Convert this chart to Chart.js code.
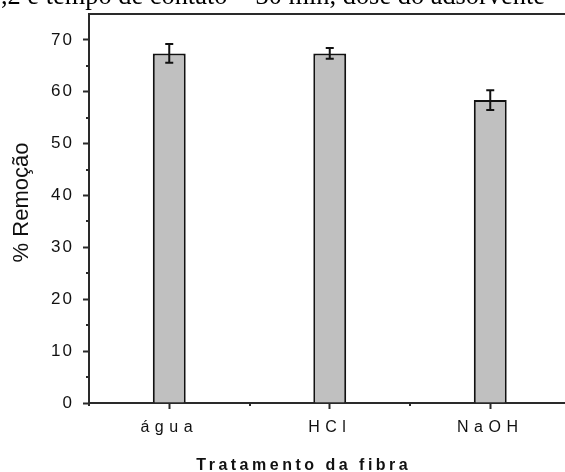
<!DOCTYPE html>
<html>
<head>
<meta charset="utf-8">
<script src="https://cdn.jsdelivr.net/npm/chart.js@4.4.1/dist/chart.umd.min.js"></script>
<style>
  html, body { margin: 0; padding: 0; background: #fff; overflow: hidden; }
  #chart { display: block; }
</style>
</head>
<body>
<canvas id="chart" width="580" height="480" style="width:580px;height:480px"></canvas>
<script>
const categories = ["água", "HCl", "NaOH"];
const removal = [67.4, 67.4, 58.4];
const errors = [1.8, 1.05, 1.9];
const yTicks = [0, 10, 20, 30, 40, 50, 60, 70];
const yMinorTicks = [5, 15, 25, 35, 45, 55, 65];
const caption = "pH = 7,2 e tempo de contato = 30 min, dose do adsorvente";

const sans = "'Liberation Sans', Arial, sans-serif";
const lineColor = "#2a2a2a";

// canvas letterSpacing (and a small shift) for one scale's labels / title
function wrap(scale, name, setup) {
  if (!scale || scale["_w_" + name]) return;
  const orig = scale[name];
  scale[name] = function (...args) {
    const c = this.ctx;
    c.save();
    setup(c);
    orig.apply(this, args);
    c.restore();
  };
  scale["_w_" + name] = true;
}

const spacing = {
  id: "spacing",
  beforeDraw(chart) {
    wrap(chart.scales.x, "drawLabels", c => { c.letterSpacing = "5.5px"; });
    wrap(chart.scales.y, "drawLabels", c => { c.letterSpacing = "2px"; });
    wrap(chart.scales.x, "drawTitle", c => { c.letterSpacing = "3.5px"; c.translate(-26, 0); });
    wrap(chart.scales.y, "drawTitle", c => { c.translate(0, -6); });
  }
};

const errorBars = {
  id: "errorBars",
  afterDatasetsDraw(chart) {
    const { ctx, scales: { y } } = chart;
    const meta = chart.getDatasetMeta(0);
    ctx.save();
    ctx.strokeStyle = "#111";
    ctx.lineWidth = 2;
    meta.data.forEach((bar, i) => {
      const x = bar.x;
      const top = y.getPixelForValue(removal[i] + errors[i]);
      const bot = y.getPixelForValue(removal[i] - errors[i]);
      ctx.beginPath();
      ctx.moveTo(x, top); ctx.lineTo(x, bot);
      ctx.moveTo(x - 4, top); ctx.lineTo(x + 4, top);
      ctx.moveTo(x - 4, bot); ctx.lineTo(x + 4, bot);
      ctx.stroke();
    });
    ctx.restore();
  }
};

// minor ticks and the cut-off caption line above the plot
const extras = {
  id: "extras",
  afterDraw(chart) {
    const { ctx, chartArea, scales: { x, y } } = chart;
    ctx.save();
    ctx.strokeStyle = lineColor;
    ctx.lineWidth = 2;
    ctx.beginPath();
    yMinorTicks.forEach(v => {
      const py = Math.round(y.getPixelForValue(v));
      ctx.moveTo(chartArea.left - 3, py);
      ctx.lineTo(chartArea.left, py);
    });
    const half = (x.getPixelForValue(1) - x.getPixelForValue(0)) / 2;
    for (let i = 0; i <= categories.length; i++) {
      const px = Math.round(x.getPixelForValue(i) - half);
      ctx.moveTo(px, chartArea.bottom);
      ctx.lineTo(px, chartArea.bottom + 3);
    }
    ctx.stroke();

    ctx.fillStyle = "#000";
    ctx.font = "26.4px 'Liberation Serif', 'Times New Roman', serif";
    ctx.textAlign = "right";
    ctx.textBaseline = "alphabetic";
    ctx.fillText(caption, 545, 4);
    ctx.restore();
  }
};

new Chart(document.getElementById("chart"), {
  type: "bar",
  data: {
    labels: categories,
    datasets: [{
      label: "% Remoção",
      data: removal,
      backgroundColor: "#c0c0c0",
      borderColor: "#111",
      borderWidth: 2,
      barPercentage: 1,
      categoryPercentage: 0.205
    }]
  },
  options: {
    responsive: false,
    animation: false,
    devicePixelRatio: 1,
    layout: { padding: { top: 14, right: 9.5, left: 0, bottom: 0 } },
    plugins: { legend: { display: false }, tooltip: { enabled: false } },
    scales: {
      x: {
        offset: true,
        grid: { offset: false, drawOnChartArea: false, tickLength: 6, tickWidth: 2, tickColor: lineColor },
        border: { color: lineColor, width: 2 },
        ticks: { color: "#111", font: { family: sans, size: 16 }, padding: 9, maxRotation: 0 },
        title: {
          display: true, text: "Tratamento da fibra", color: "#111",
          font: { family: sans, size: 16, weight: "bold" }, padding: { top: 0, bottom: 4.4 }
        },
        afterFit: s => { s.height = 77; }
      },
      frame: {
        type: "category", labels: categories, position: "top", offset: true,
        grid: { display: true, drawOnChartArea: false, drawTicks: false },
        border: { display: true, color: lineColor, width: 2 },
        ticks: { display: false },
        afterFit: s => { s.height = 0; }
      },
      y: {
        min: 0, max: 75,
        afterBuildTicks: s => { s.ticks = yTicks.map(v => ({ value: v })); },
        grid: { drawOnChartArea: false, tickLength: 6, tickWidth: 2, tickColor: lineColor },
        border: { color: lineColor, width: 2 },
        ticks: { color: "#111", font: { family: sans, size: 17 }, padding: 9 },
        title: {
          display: true, text: "% Remoção", color: "#111",
          font: { family: sans, size: 22 }, padding: { top: 9, bottom: 0 }
        },
        afterFit: s => { s.width = 89; s.paddingTop = 0; s.paddingBottom = 0; }
      }
    }
  },
  plugins: [spacing, errorBars, extras]
});
</script>
</body>
</html>
